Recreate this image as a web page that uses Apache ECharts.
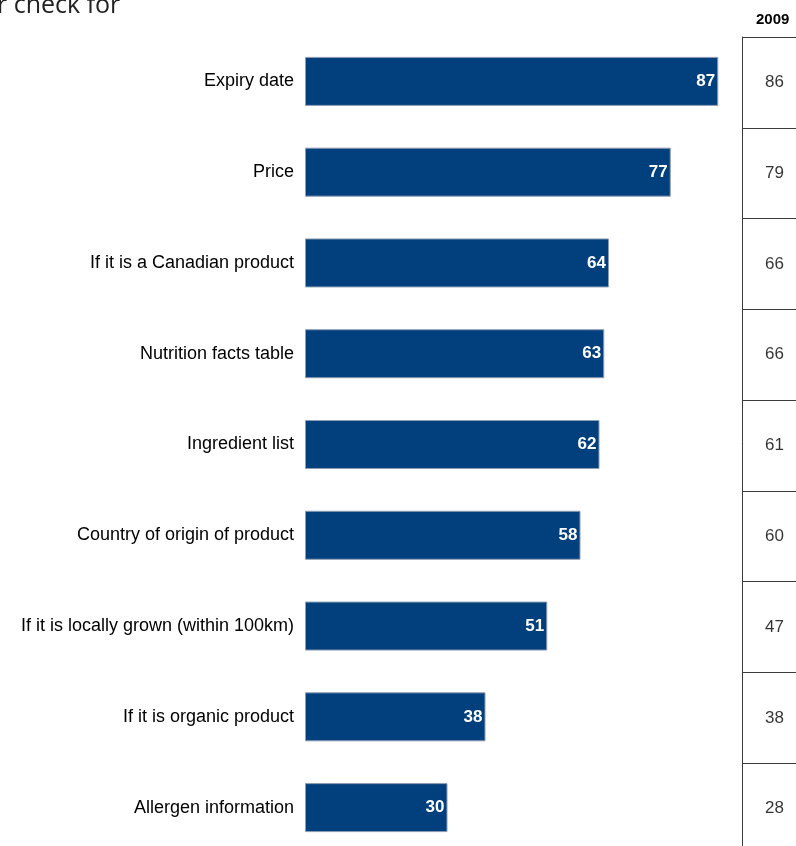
<!DOCTYPE html>
<html>
<head>
<meta charset="utf-8">
<script src="https://cdn.jsdelivr.net/npm/echarts@6/dist/echarts.min.js"></script>
<style>
  html, body { margin: 0; padding: 0; background: #fff; }
  #chart { width: 796px; height: 846px; }
</style>
</head>
<body>
<div id="chart"></div>
<script>
// Items checked on food labels, current year (bars) vs. 2009 (table column)
const categories = [
  'Expiry date',
  'Price',
  'If it is a Canadian product',
  'Nutrition facts table',
  'Ingredient list',
  'Country of origin of product',
  'If it is locally grown (within 100km)',
  'If it is organic product',
  'Allergen information'
];
const currentValues = [87, 77, 64, 63, 62, 58, 51, 38, 30];
const values2009 = [86, 79, 66, 66, 61, 60, 47, 38, 28];
const tableHeader = '2009';

const sans = "'Liberation Sans', Arial, sans-serif";

const chart = echarts.init(document.getElementById('chart'), null, { renderer: 'canvas' });

chart.setOption({
  animation: false,
  backgroundColor: '#ffffff',
  grid: [
    { left: 305, top: 36, width: 475, height: 817, containLabel: false, outerBoundsMode: 'none' },
    { left: 742, top: 37, right: 0, height: 817, containLabel: false, outerBoundsMode: 'none' }
  ],
  xAxis: [
    { gridIndex: 0, type: 'value', min: 0, max: 100, show: false },
    { gridIndex: 1, type: 'value', min: 0, max: 1, show: false }
  ],
  yAxis: [
    {
      gridIndex: 0,
      type: 'category',
      inverse: true,
      data: categories,
      axisLine: { show: false },
      axisTick: { show: false },
      axisLabel: {
        margin: 11,
        color: '#000',
        fontFamily: sans,
        fontSize: 18
      }
    },
    {
      gridIndex: 1,
      type: 'category',
      inverse: true,
      data: categories,
      axisLine: { show: true, lineStyle: { color: '#3a3a3a', width: 1 } },
      axisTick: { show: false },
      axisLabel: { show: false },
      splitLine: { show: true, lineStyle: { color: '#3a3a3a', width: 1 } }
    }
  ],
  series: [
    {
      type: 'bar',
      xAxisIndex: 0,
      yAxisIndex: 0,
      data: currentValues,
      barWidth: 49,
      itemStyle: { color: '#023f7d', borderColor: '#8e9db3', borderWidth: 1 },
      label: {
        show: true,
        position: 'insideRight',
        distance: 3,
        color: '#fff',
        fontFamily: sans,
        fontWeight: 'bold',
        fontSize: 17
      }
    },
    {
      type: 'scatter',
      xAxisIndex: 1,
      yAxisIndex: 1,
      symbolSize: 0,
      data: values2009.map((v, i) => [0.6, i, v]),
      label: {
        show: true,
        position: 'inside',
        color: '#000',
        fontFamily: sans,
        fontSize: 17,
        formatter: p => String(p.data[2])
      }
    }
  ],
  graphic: [
    {
      type: 'text',
      left: 756,
      top: 12,
      style: {
        text: tableHeader,
        fill: '#000',
        font: "bold 15px 'Liberation Sans', Arial, sans-serif"
      }
    },
    {
      type: 'text',
      left: -3,
      top: -7,
      style: {
        text: 'r check for',
        fill: '#222',
        font: "25px 'Open Sans', 'Noto Sans', sans-serif"
      }
    }
  ]
});
</script>
</body>
</html>
